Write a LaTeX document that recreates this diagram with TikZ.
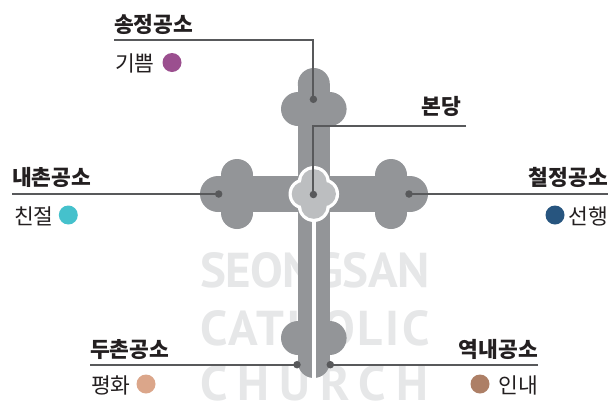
\documentclass[tikz,border=0pt]{standalone}
\usepackage{fontspec}
\newfontfamily\kr{Noto Sans CJK KR}
\newfontfamily\bga{PT Sans}[LetterSpace=-1.5]
\newfontfamily\bgf{PT Sans}[LetterSpace=5.7]
\newfontfamily\bgw{PT Sans}[LetterSpace=20.7]
\definecolor{crossg}{HTML}{939598}
\definecolor{centerg}{HTML}{BCBEC0}
\definecolor{leader}{HTML}{58595B}
\definecolor{wm}{HTML}{E6E7E8}
\definecolor{ink}{HTML}{231F20}
\definecolor{cpurple}{HTML}{9B4F8F}
\definecolor{cteal}{HTML}{45C1CC}
\definecolor{cnavy}{HTML}{27557F}
\definecolor{cpeach}{HTML}{DBA68A}
\definecolor{cbrown}{HTML}{AD7F66}
\tikzset{
  x=1pt,y=-1pt,
  title/.style={font=\fontsize{21.5}{21.5}\selectfont\bfseries\kr,text=ink,inner sep=0pt},
  sub/.style={font=\fontsize{21.5}{21.5}\selectfont\kr,text=ink,inner sep=0pt},
  wmark/.style={text=wm,inner sep=0pt,anchor=base west},
  swatch/.style={circle,inner sep=0pt,minimum size=19pt},
  leaderline/.style={draw=leader,line width=2pt},
  pin/.style={circle,fill=leader,inner sep=0pt,minimum size=7.5pt}
}
\begin{document}
\begin{tikzpicture}
\useasboundingbox (0,0) rectangle (608,402);
% watermark
\node[wmark] (w1) at (200,287) {\fontsize{49}{49}\selectfont\bga\bfseries SEONGSAN};
\node[wmark] (w2) at (200,345) {\fontsize{49}{49}\selectfont\bgf\bfseries CATHOLIC};
\node[wmark] (w3) at (200,400) {\fontsize{49}{49}\selectfont\bgw\bfseries CHURCH};
% cross
\fill[crossg] (298,84) rectangle (330,362);
\fill[crossg] (218,176) rectangle (410,212);
\foreach \cx/\cy/\r in {313.8/84/16, 298/109/17, 329.6/109/17, 298/338/17, 329.6/338/17, 313.8/362/16,
  218/194/18, 237/175/16, 237/213/16, 410/194/18, 391/175/16, 391/213/16}
  \fill[crossg] (\cx,\cy) circle[radius=\r];
\fill[crossg] (221,175) rectangle (253,213);
\fill[crossg] (375,175) rectangle (407,213);
% slit
\fill[white] (312,215) rectangle (315.6,380);
% quatrefoil
\foreach \cx/\cy/\r in {313.8/182/16, 313.8/206/16, 304/194/15.5, 323.6/194/15.5}
  \fill[white] (\cx,\cy) circle[radius=\r];
\foreach \cx/\cy/\r in {313.8/182/12.8, 313.8/206/12.8, 304/194/12.3, 323.6/194/12.3}
  \fill[centerg] (\cx,\cy) circle[radius=\r];
% pins
\node[pin] (p1) at (313.4,99.3) {};
\node[pin] (p2) at (313.4,194.5) {};
\node[pin] (p3) at (218.7,194) {};
\node[pin] (p4) at (409,194) {};
\node[pin] (p5) at (297,364.7) {};
\node[pin] (p6) at (330.3,364.7) {};
% leader ends
\coordinate (e1) at (114,40);
\coordinate (e2) at (466,125.6);
\coordinate (e3) at (12,194);
\coordinate (e4) at (608,194);
\coordinate (e5) at (90,364.7);
\coordinate (e6) at (538,364.7);
\draw[leaderline] (e1) -| (p1.center);
\draw[leaderline] (e2) -| (p2.center);
\draw[leaderline] (e3) -- (p3.center);
\draw[leaderline] (e4) -- (p4.center);
\draw[leaderline] (e5) -- (p5.center);
\draw[leaderline] (e6) -- (p6.center);
% labels
\node[title,anchor=base west] (t1) at (114,32) {송정공소};
\node[sub,anchor=base west] (s1) at (115,71) {기쁨};
\node[swatch,fill=cpurple] (c1) at (172,62.5) {};
\node[title,anchor=base east] (t2) at (461.5,114.5) {본당};
\node[title,anchor=base west] (t3) at (12,185) {내촌공소};
\node[sub,anchor=base west] (s3) at (14,224) {친절};
\node[swatch,fill=cteal] (c3) at (68.3,215) {};
\node[title,anchor=base east] (t4) at (608,185) {철정공소};
\node[sub,anchor=base east] (s4) at (608,224) {선행};
\node[swatch,fill=cnavy] (c4) at (555,215) {};
\node[title,anchor=base west] (t5) at (90,357) {두촌공소};
\node[sub,anchor=base west] (s5) at (91,393) {평화};
\node[swatch,fill=cpeach] (c5) at (146,384) {};
\node[title,anchor=base east] (t6) at (538,357) {역내공소};
\node[sub,anchor=base east] (s6) at (538,393) {인내};
\node[swatch,fill=cbrown] (c6) at (480,384) {};
\end{tikzpicture}
\end{document}
